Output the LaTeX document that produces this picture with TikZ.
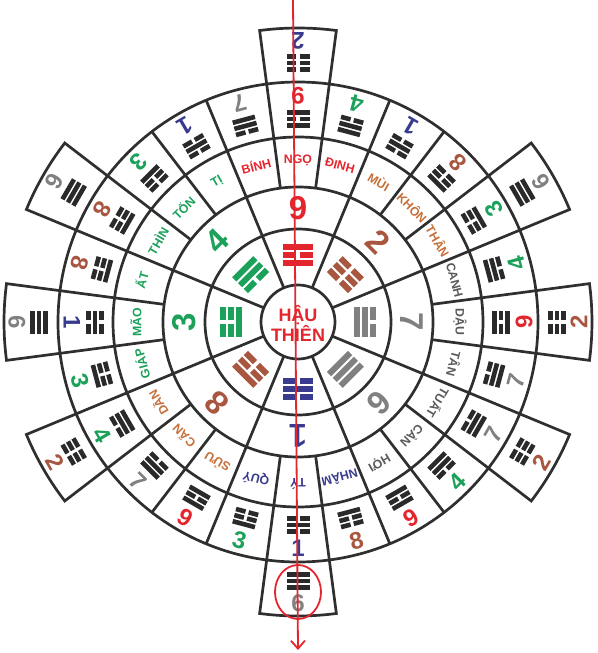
\documentclass[tikz,border=0pt]{standalone}
\usepackage{fontspec}
\setmainfont{Liberation Sans}
\usetikzlibrary{arrows.meta}
\definecolor{cred}{HTML}{E3262E}
\definecolor{cgreen}{HTML}{1BA15A}
\definecolor{cbrown}{HTML}{A8563F}
\definecolor{cgray}{HTML}{808080}
\definecolor{cblue}{HTML}{393C8E}
\definecolor{corange}{HTML}{C66F3A}
\definecolor{cdgray}{HTML}{5A5A5A}
\definecolor{cline}{HTML}{2F2F2F}
\definecolor{ctri}{HTML}{2A2A2A}
\newcommand\yao[3]{%
  \ifnum#2=1 \fill[#3] (-11.5,#1-2.3) rectangle (11.5,#1+2.3);%
  \else \fill[#3] (-11.5,#1-2.3) rectangle (-1.6,#1+2.3);%
        \fill[#3] (1.6,#1-2.3) rectangle (11.5,#1+2.3);\fi}
\newcommand\trigbits[4]{\yao{-6.3}{#1}{#4}\yao{0}{#2}{#4}\yao{6.3}{#3}{#4}}
\newcommand\trig[2]{%
  \ifcase#1\or\trigbits010{#2}\or\trigbits000{#2}\or\trigbits100{#2}\or
  \trigbits011{#2}\or\or\trigbits111{#2}\or\trigbits110{#2}\or
  \trigbits001{#2}\or\trigbits101{#2}\fi}
\begin{document}
\begin{tikzpicture}[x=1pt,y=1pt,
  ring/.style={draw=cline,line width=2.7pt},
  spoke/.style={draw=cline,line width=2.7pt},
  numo/.style={inner sep=0pt,font=\fontsize{24}{24}\selectfont\bfseries},
  numi/.style={inner sep=0pt,font=\fontsize{33}{33}\selectfont\bfseries},
  mtn/.style={inner sep=0pt,font=\fontsize{12.3}{13}\selectfont\bfseries},
  redline/.style={draw=cred,line width=1.8pt}]
\useasboundingbox (-298,-331) rectangle (299,322);
% rings
\foreach \r in {37,93,135,185,240} \draw[ring] (0,0) circle[radius=\r];
\foreach \i in {0,...,7} \draw[spoke] ({22.5+45*\i}:37) -- ({22.5+45*\i}:135);
\foreach \i in {0,...,23} \draw[spoke] ({7.5+15*\i}:135) -- ({7.5+15*\i}:240);
\foreach \a in {90,30,0,-30,-90,-150,180,150}
  \draw[spoke] ({\a-7.5}:240) -- ({\a-7.5}:294)
    arc[start angle=\a-7.5, end angle=\a+7.5, radius=294] -- ({\a+7.5}:240);
% center
\node[inner sep=0pt,align=center,text=cred,font=\fontsize{18}{20}\selectfont\bfseries] (hau) at (0,-1) {HẬU\\THIÊN};
% inner ring
\foreach \a/\n/\c [count=\i] in {90/9/cred,45/2/cbrown,0/7/cgray,-45/6/cgray,-90/1/cblue,-135/8/cbrown,180/3/cgreen,135/4/cgreen}{
  \begin{scope}[shift={(\a:67)},rotate=\a-90,scale=1.3]\trig{\n}{\c}\end{scope}
  \node[numi,text=\c,rotate=\a-90] (in\i) at (\a:114) {\n};
}
% 24 mountains
\foreach \a/\s/\c [count=\i] in {90/NGỌ/cred,75/ĐINH/cred,60/MÙI/corange,45/KHÔN/corange,30/THÂN/corange,
  15/CANH/cdgray,0/DẬU/cdgray,-15/TÂN/cdgray,-30/TUẤT/cdgray,-45/CÀN/cdgray,-60/HỢI/cdgray,
  -75/NHÂM/cblue,-90/TÝ/cblue,-105/QUÝ/cblue,-120/SỬU/corange,-135/CẤN/corange,-150/DẦN/corange,
  -165/GIÁP/cgreen,-180/MÃO/cgreen,-195/ẤT/cgreen,-210/THÌN/cgreen,-225/TỐN/cgreen,-240/TỊ/cgreen,-255/BÍNH/cred}
  \node[mtn,text=\c,rotate=\a-90] (m\i) at (\a:162) {\s};
% outer ring
\foreach \a/\n/\c [count=\i] in {90/9/cred,75/4/cgreen,60/1/cblue,45/8/cbrown,30/3/cgreen,15/4/cgreen,
  0/9/cred,-15/7/cgray,-30/7/cgray,-45/4/cgreen,-60/9/cred,-75/8/cbrown,-90/1/cblue,-105/3/cgreen,
  -120/9/cred,-135/7/cgray,-150/4/cgreen,-165/3/cgreen,-180/1/cblue,-195/8/cbrown,-210/8/cbrown,
  -225/3/cgreen,-240/1/cblue,-255/7/cgray}{
  \begin{scope}[shift={(\a:203)},rotate=\a+90]\trig{\n}{ctri}\end{scope}
  \node[numo,text=\c,rotate=\a+90] (o\i) at (\a:226) {\n};
}
% boxes
\foreach \a/\n/\c [count=\i] in {90/2/cblue,30/6/cgray,0/2/cbrown,-30/2/cbrown,-90/6/cgray,-150/2/cbrown,180/6/cgray,150/6/cgray}{
  \begin{scope}[shift={(\a:259)},rotate=\a+90]\trig{\n}{ctri}\end{scope}
  \node[numo,text=\c,rotate=\a+90] (b\i) at (\a:281) {\n};
}
% red axis
\coordinate (ltop) at (-5,322);
\coordinate (lbot) at (0,-328);
\draw[redline,-{Straight Barb[length=8pt,width=14pt]}] (ltop) -- (lbot);
\coordinate (ec) at (0,-270);
\draw[redline] (ec) ellipse[x radius=23, y radius=27];
\end{tikzpicture}
\end{document}
